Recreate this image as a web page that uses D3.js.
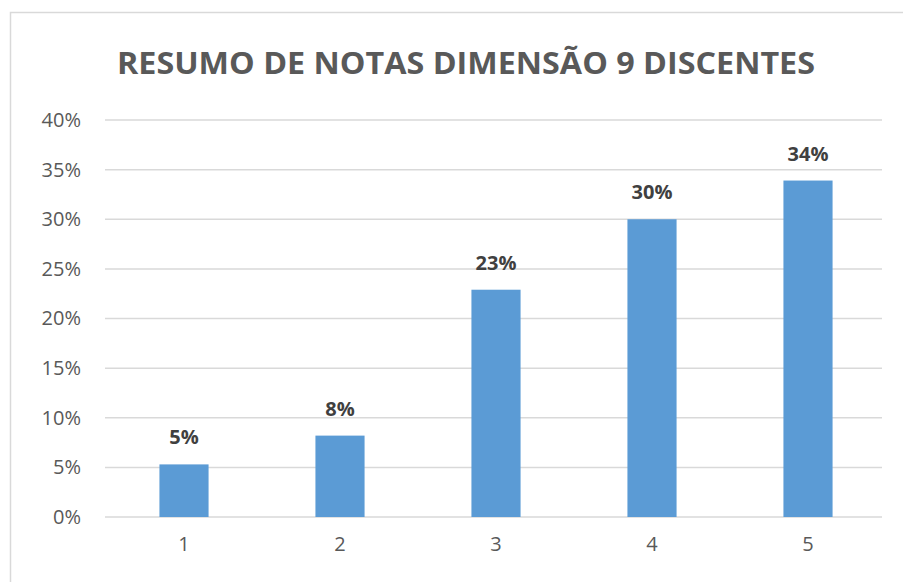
<!DOCTYPE html>
<html>
<head>
<meta charset="utf-8">
<title>Resumo de notas</title>
<script src="https://d3js.org/d3.v7.min.js"></script>
<style>
  body { margin: 0; background: #fff; }
  text { font-family: "Open Sans", "Noto Sans", sans-serif; }
</style>
</head>
<body>
<svg id="chart" width="903" height="582"></svg>
<script>
// data
var categories = ["1", "2", "3", "4", "5"];
var values = [0.053, 0.082, 0.229, 0.30, 0.339];
var yTicks = [0, 0.05, 0.10, 0.15, 0.20, 0.25, 0.30, 0.35, 0.40];
var title = "RESUMO DE NOTAS DIMENSÃO 9 DISCENTES";

var w = 903, h = 582;
var margin = {left: 106, right: 17, top: 120, bottom: 65};

var svg = d3.select("#chart");

// chart area border (only top and left are visible in the picture)
svg.append("rect")
   .attr("x", 10.5).attr("y", 12.5)
   .attr("width", w + 20).attr("height", h + 20)
   .attr("fill", "#fff")
   .attr("stroke", "#d9d9d9")
   .attr("stroke-width", 1.5);

var x = d3.scaleBand()
          .domain(categories)
          .range([margin.left, w - margin.right])
          .padding(0);
var y = d3.scaleLinear()
          .domain([0, 0.40])
          .range([h - margin.bottom, margin.top]);

// gridlines
svg.append("g")
   .selectAll("line")
   .data(yTicks)
   .enter()
   .append("line")
   .attr("x1", margin.left - 1)
   .attr("x2", w - margin.right - 4)
   .attr("y1", function(d) {return y(d);})
   .attr("y2", function(d) {return y(d);})
   .attr("stroke", "#d9d9d9")
   .attr("stroke-width", 1.5);

// y axis labels
var yAxis = d3.axisLeft(y)
              .tickValues(yTicks)
              .tickFormat(d3.format(".0%"))
              .tickSize(0)
              .tickPadding(25);
var ya = svg.append("g")
            .attr("transform", "translate(" + margin.left + ",0)")
            .call(yAxis);
ya.select(".domain").remove();
ya.selectAll("text")
  .attr("fill", "#595959")
  .style("font-size", "20px")
  .style("font-family", "'Open Sans', sans-serif");

// x axis labels
var xAxis = d3.axisBottom(x).tickSize(0).tickPadding(20);
var xa = svg.append("g")
            .attr("transform", "translate(0," + y(0) + ")")
            .call(xAxis);
xa.select(".domain").remove();
xa.selectAll("text")
  .attr("fill", "#595959")
  .style("font-size", "20px")
  .style("font-family", "'Open Sans', sans-serif");

// bars
var barW = x.bandwidth() * 0.315;
svg.selectAll("rect.bar")
   .data(values)
   .enter()
   .append("rect")
   .attr("class", "bar")
   .attr("x", function(d, i) {return x(categories[i]) + (x.bandwidth() - barW) / 2;})
   .attr("y", function(d) {return y(d);})
   .attr("width", barW)
   .attr("height", function(d) {return y(0) - y(d);})
   .attr("fill", "#5b9bd5");

// value labels
svg.selectAll("text.val")
   .data(values)
   .enter()
   .append("text")
   .attr("class", "val")
   .attr("x", function(d, i) {return x(categories[i]) + x.bandwidth() / 2;})
   .attr("y", function(d) {return y(d) - 20;})
   .attr("text-anchor", "middle")
   .attr("fill", "#404040")
   .style("font-size", "20px")
   .style("font-weight", "bold")
   .text(function(d) {return d3.format(".0%")(d);});

// title
svg.append("text")
   .attr("x", 466)
   .attr("y", 74)
   .attr("text-anchor", "middle")
   .attr("fill", "#595959")
   .style("font-size", "31px")
   .style("font-weight", "bold")
   .attr("textLength", 698)
   .attr("lengthAdjust", "spacingAndGlyphs")
   .text(title);
</script>
</body>
</html>
